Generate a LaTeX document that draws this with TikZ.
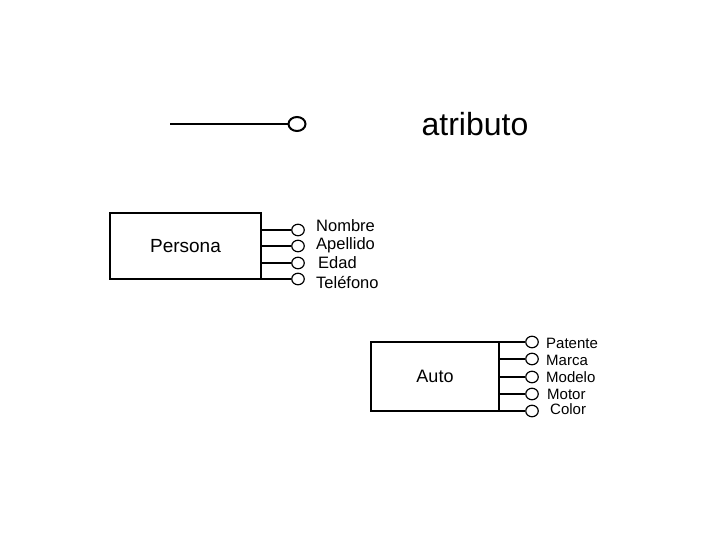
\documentclass[tikz,border=0pt]{standalone}
\usepackage{fontspec}
\setmainfont{Liberation Sans}
\usetikzlibrary{positioning, shapes.geometric}

\begin{document}
\begin{tikzpicture}[x=1pt, y=-1pt,
      entity/.style={draw, line width=1.2pt, inner sep=0pt, outer sep=0pt,
      font=\fontsize{19}{22}\selectfont},
      attr/.style={draw, ellipse, line width=1.2pt, inner sep=0pt,
      minimum width=12.5pt, minimum height=11.5pt},
      link/.style={line width=1.2pt},
      lbl/.style={inner sep=0pt, anchor=base west,
      font=\fontsize{16.5}{18}\selectfont},
      slbl/.style={inner sep=0pt, anchor=base west,
      font=\fontsize{15}{17}\selectfont}
    ]
    \useasboundingbox (0,0) rectangle (720,540);

    % legend
    \node[attr, line width=2pt, minimum width=17pt, minimum height=14pt] (leg) at (297,124) {};
    \coordinate (legstart) at (170,124);
    \draw[line width=2pt] (legstart) -- (leg.west);
    \node[font=\fontsize{32}{38}\selectfont] (legtext) at (475,124) {atributo};

    % Persona
    \node[entity, minimum width=151pt, minimum height=66pt] (persona) at (185.5,246) {Persona};
    \node[attr] (nombre) at (298,230) {};
    \node[attr] (apellido) at (298,246) {};
    \node[attr] (edad) at (298,263) {};
    \node[attr] (telefono) at (298,279) {};
    \draw[link] (persona.east |- nombre) -- (nombre.west);
    \draw[link] (persona.east |- apellido) -- (apellido.west);
    \draw[link] (persona.east |- edad) -- (edad.west);
    \draw[link] (persona.south east) -- (telefono.west);
    \node[lbl] (nombrel) at (316,231) {Nombre};
    \node[lbl] (apellidol) at (316,249) {Apellido};
    \node[lbl] (edadl) at (318,268) {Edad};
    \node[lbl] (telefonol) at (316,288) {Teléfono};

    % Auto
    \node[entity, font=\fontsize{18}{21}\selectfont, minimum width=128pt, minimum height=69pt] (auto) at (435,376.5) {Auto};
    \node[attr] (patente) at (532,342) {};
    \node[attr] (marca) at (532,359) {};
    \node[attr] (modelo) at (532,377) {};
    \node[attr] (motor) at (532,394) {};
    \node[attr] (color) at (532,411) {};
    \draw[link] (auto.north east) -- (patente.west);
    \draw[link] (auto.east |- marca) -- (marca.west);
    \draw[link] (auto.east |- modelo) -- (modelo.west);
    \draw[link] (auto.east |- motor) -- (motor.west);
    \draw[link] (auto.south east) -- (color.west);
    \node[slbl] (patentel) at (546,348) {Patente};
    \node[slbl] (marcal) at (546,365) {Marca};
    \node[slbl] (modelol) at (546,382) {Modelo};
    \node[slbl] (motorl) at (547,399) {Motor};
    \node[slbl] (colorl) at (550,414) {Color};
  \end{tikzpicture}
\end{document}
